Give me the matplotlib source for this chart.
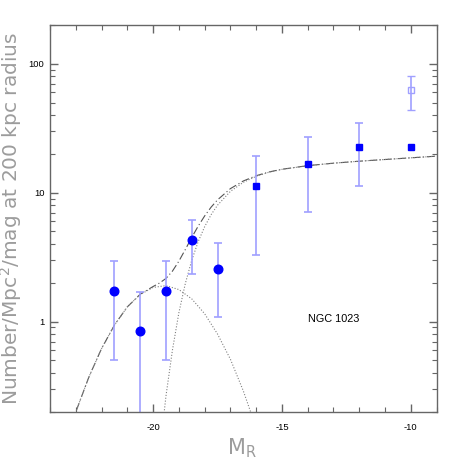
import matplotlib
matplotlib.use("Agg")
import matplotlib.pyplot as plt
from matplotlib.ticker import FixedLocator, NullFormatter, FixedFormatter

# ---- data ----
circ_x = [-21.5, -20.5, -19.5, -18.5, -17.5]
circ_y = [1.72, 0.84, 1.74, 4.27, 2.56]
circ_lo = [0.505, 0.10, 0.505, 2.34, 1.09]
circ_hi = [2.94, 1.69, 2.94, 6.1, 4.05]

sq_x = [-16, -14, -12, -10]
sq_y = [11.3, 16.8, 22.6, 22.6]
sq_lo = [3.28, 7.1, 11.3, 22.6]
sq_hi = [19.2, 26.8, 34.4, 22.6]

open_x = [-10]
open_y = [62.6]
open_lo = [43.5]
open_hi = [81.0]

# curves
gauss_m = [-23.5, -23.0, -22.5, -22.0, -21.5, -21.0, -20.5, -20.0, -19.5, -19.0,
           -18.5, -18.0, -17.5, -17.0, -16.5, -16.0]
gauss_n = [0.098, 0.199, 0.368, 0.617, 0.939, 1.30, 1.62, 1.84, 1.90, 1.77,
           1.50, 1.15, 0.80, 0.51, 0.29, 0.15]

dwarf_m = [-20.0, -19.75, -19.5, -19.25, -19.0, -18.75, -18.5, -18.25, -18.0, -17.75,
           -17.5, -17.0, -16.5, -16.0, -15.5, -15.0, -14.0, -13.0, -12.0, -11.0, -10.0, -9.0]
dwarf_n = [0.025, 0.094, 0.265, 0.60, 1.17, 1.97, 2.99, 4.17, 5.44, 6.74,
           7.99, 10.23, 12.02, 13.38, 14.40, 15.15, 16.19, 16.92, 17.53, 18.07, 18.62, 19.18]

total_m = [-23.5, -23.0, -22.5, -22.0, -21.5, -21.0, -20.5, -20.0, -19.75, -19.5, -19.25,
           -19.0, -18.75, -18.5, -18.25, -18.0, -17.75, -17.5, -17.0, -16.5, -16.0,
           -15.5, -15.0, -14.0, -13.0, -12.0, -11.0, -10.0, -9.0]
total_n = [0.098, 0.199, 0.368, 0.617, 0.939, 1.30, 1.63, 1.87, 1.99, 2.16, 2.46,
           2.94, 3.62, 4.49, 5.50, 6.59, 7.71, 8.79, 10.74, 12.31, 13.53,
           14.47, 15.18, 16.19, 16.92, 17.53, 18.07, 18.62, 19.18]

xticks_major = [-20, -15, -10]
xtick_labels = ["-20", "-15", "-10"]
yticks_major = [1, 10, 100]
ytick_labels = ["1", "10", "100"]

# ---- figure ----
fig = plt.figure(figsize=(4.61, 4.61), dpi=100)
ax = fig.add_axes([0.1085, 0.107, 0.8385, 0.839])

ebc = "#a0a0ff"
ax.plot(total_m, total_n, color="#555555", lw=0.8, dashes=(7, 2.5, 1, 2.5))
ax.plot(gauss_m, gauss_n, color="#808080", lw=0.8, linestyle=(0, (1, 1.6)))
ax.plot(dwarf_m, dwarf_n, color="#808080", lw=0.8, linestyle=(0, (1, 1.6)))

def eb(x, y, lo, hi, **kw):
    yerr = [[yy - l for yy, l in zip(y, lo)], [h - yy for yy, h in zip(y, hi)]]
    ax.errorbar(x, y, yerr=yerr, ecolor=ebc, elinewidth=1.2, capsize=3.2,
                capthick=1.2, linestyle="none", **kw)

eb(circ_x, circ_y, circ_lo, circ_hi, marker="o", ms=6.2, mfc="#0000ff", mec="#0000ff")
eb(sq_x[:3], sq_y[:3], sq_lo[:3], sq_hi[:3], marker="s", ms=4.6, mfc="#0000ff", mec="#0000ff")
ax.plot(sq_x[3:], sq_y[3:], linestyle="none", marker="s", ms=4.6, mfc="#0000ff", mec="#0000ff")
eb(open_x, open_y, open_lo, open_hi, marker="s", ms=4.8, mfc="none", mec=ebc, mew=1.0)

ax.set_yscale("log")
ax.set_xlim(-24, -9)
ax.set_ylim(0.2, 200)

ax.xaxis.set_major_locator(FixedLocator(xticks_major))
ax.xaxis.set_major_formatter(FixedFormatter(xtick_labels))
ax.xaxis.set_minor_locator(FixedLocator([v for v in range(-24, -8) if v not in xticks_major]))
ax.yaxis.set_major_locator(FixedLocator(yticks_major))
ax.yaxis.set_major_formatter(FixedFormatter(ytick_labels))
minors = []
for dec in [0.1, 1, 10, 100]:
    for k in range(2, 10):
        v = k * dec
        if 0.2 <= v <= 200:
            minors.append(v)
ax.yaxis.set_minor_locator(FixedLocator(minors))
ax.yaxis.set_minor_formatter(NullFormatter())

for s in ax.spines.values():
    s.set_color("#666666")
    s.set_linewidth(1.0)
ax.tick_params(which="both", direction="in", top=True, right=True, color="#666666",
               labelsize=6.8, labelcolor="black")
ax.tick_params(which="major", length=6, width=1.0)
ax.tick_params(which="minor", length=3.5, width=0.8)
ax.tick_params(axis="x", which="major", pad=8)
ax.tick_params(axis="y", which="major", pad=4)
for lab in ax.get_xticklabels() + ax.get_yticklabels():
    lab.set_family("Liberation Sans")

ax.text(-13.0, 1.05, "NGC 1023", fontsize=7.8, family="Liberation Sans",
        ha="center", va="center", color="black")

fig.text(0.025, 0.526, "Number/Mpc$^2$/mag at 200 kpc radius", rotation=90,
         fontsize=14.5, color="#9c9c9c", ha="center", va="center")
fig.text(0.525, 0.028, "M$_\\mathregular{R}$", fontsize=15, color="#9c9c9c",
         ha="center", va="center")

fig.savefig("out.png", dpi=100)
